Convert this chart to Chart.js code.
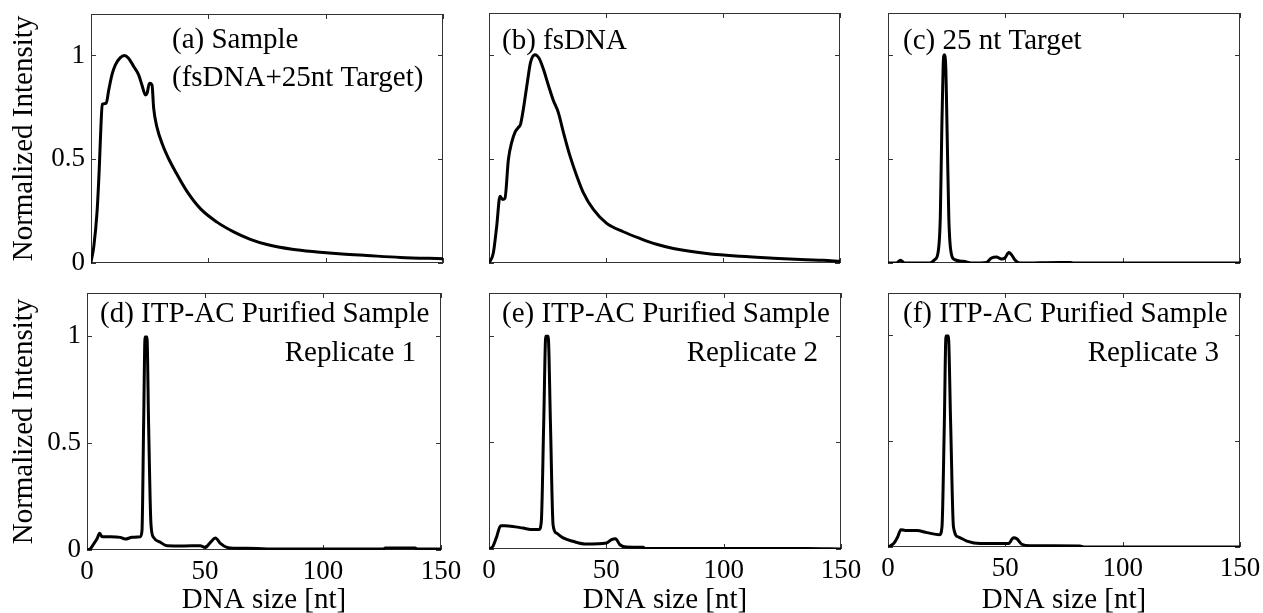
<!DOCTYPE html>
<html>
<head>
<meta charset="utf-8">
<script src="https://cdn.jsdelivr.net/npm/chart.js@4.4.1/dist/chart.umd.min.js"></script>
<style>
  body { margin: 0; background: #fff; }
  #wrap { position: relative; width: 1263px; height: 613px; overflow: hidden; }
  #wrap canvas { position: absolute; left: 0; top: 0; }
</style>
</head>
<body>
<div id="wrap">
  <canvas id="panelA" width="1263" height="613"></canvas>
  <canvas id="panelB" width="1263" height="613"></canvas>
  <canvas id="panelC" width="1263" height="613"></canvas>
  <canvas id="panelD" width="1263" height="613"></canvas>
  <canvas id="panelE" width="1263" height="613"></canvas>
  <canvas id="panelF" width="1263" height="613"></canvas>
</div>
<script>
// ---- data ----
const xTicks = [0, 50, 100, 150];
const yTicks = [0, 0.5, 1];

// (a) sample: fsDNA + 25 nt target
const sizeA = [0, 1.2, 2.6, 3.5, 4.2, 4.8, 6.5, 7.5, 9, 10.4, 12.5, 14.2, 16, 18.2, 20.3, 21.7, 23.2, 23.9, 24.9, 26, 26.7, 28.1, 30.5, 33.2, 36, 40.9, 46.6, 53.7, 60.8, 67.9, 75, 85.7, 96.3, 107, 117.6, 131.8, 150];
const intensityA = [0.005, 0.08, 0.25, 0.45, 0.65, 0.765, 0.77, 0.83, 0.91, 0.955, 0.99, 1.0, 0.987, 0.947, 0.907, 0.858, 0.81, 0.818, 0.866, 0.858, 0.746, 0.655, 0.57, 0.5, 0.44, 0.345, 0.262, 0.197, 0.15, 0.114, 0.089, 0.066, 0.053, 0.043, 0.036, 0.027, 0.021];

// (b) fsDNA only
const sizeB = [0, 1.85, 3.3, 4.7, 5.8, 6.8, 8.3, 9.7, 11.1, 12.5, 13.5, 14.7, 16.4, 17.8, 19.7, 21.5, 23.2, 25.4, 27.5, 29.6, 31.8, 34.6, 37.5, 40.3, 44.6, 50.3, 57.4, 64.5, 71.6, 78.8, 93, 107.3, 121.5, 135.7, 142.8, 150];
const intensityB = [0, 0.048, 0.177, 0.32, 0.305, 0.31, 0.498, 0.579, 0.627, 0.65, 0.667, 0.74, 0.868, 0.965, 1.0, 0.981, 0.932, 0.852, 0.78, 0.723, 0.627, 0.514, 0.418, 0.338, 0.257, 0.19, 0.15, 0.118, 0.09, 0.07, 0.046, 0.032, 0.023, 0.016, 0.013, 0.008];

// (c) 25 nt target
const sizeC = [0, 3.6, 5.3, 7.1, 17.8, 19.9, 21.3, 22.3, 22.9, 23.5, 24, 24.6, 25.2, 25.9, 26.7, 28.4, 32, 36.3, 42, 44.1, 46.2, 48.4, 49.8, 51.5, 52.6, 54, 56.2, 73.3, 77.5, 79, 150];
const intensityC = [0, 0, 0.013, 0, 0, 0.016, 0.048, 0.224, 0.624, 0.944, 1.0, 0.944, 0.624, 0.224, 0.064, 0.016, 0.008, 0, 0.003, 0.024, 0.029, 0.019, 0.024, 0.051, 0.04, 0.016, 0, 0.003, 0.003, 0, 0];

// (d) ITP-AC purified, replicate 1
const sizeD = [0, 1.4, 2.8, 4.2, 5.4, 6.4, 9.9, 14.1, 16.2, 19.1, 22.6, 23.3, 24, 24.6, 25.4, 26.1, 27.1, 28.2, 31.1, 33.9, 41, 48, 50.1, 52.3, 54.4, 56.5, 59.3, 62.1, 67.8, 76.3, 125.7, 126.4, 139.1, 139.8, 150];
const intensityD = [0, 0.005, 0.028, 0.051, 0.078, 0.062, 0.062, 0.059, 0.051, 0.059, 0.062, 0.09, 0.588, 0.995, 0.995, 0.588, 0.121, 0.059, 0.036, 0.02, 0.019, 0.02, 0.012, 0.036, 0.056, 0.031, 0.012, 0.008, 0.008, 0.005, 0.005, 0.009, 0.009, 0.005, 0.005];

// (e) ITP-AC purified, replicate 2
const sizeE = [0, 1.7, 3.1, 5, 6.7, 10.2, 14.5, 18.8, 21.3, 22.3, 23.3, 24.2, 25.2, 26.2, 27.3, 28.7, 31.6, 35.8, 41.5, 50.1, 52.2, 53.9, 55.8, 58.6, 65.7, 66.4, 135.4, 150];
const intensityE = [0, 0.013, 0.052, 0.109, 0.109, 0.106, 0.098, 0.091, 0.091, 0.13, 0.583, 0.997, 0.997, 0.583, 0.114, 0.075, 0.052, 0.036, 0.023, 0.028, 0.044, 0.048, 0.02, 0.009, 0.008, 0.002, 0.002, 0];

// (f) ITP-AC purified, replicate 3
const sizeF = [0, 2.4, 4.1, 5.5, 7.4, 12.3, 16.6, 22, 23, 24, 24.7, 25.7, 26.7, 27.9, 30.1, 33.6, 39.3, 51.3, 53.5, 54.9, 57, 60.6, 81.8, 83.3, 150];
const intensityF = [0, 0.016, 0.047, 0.082, 0.078, 0.078, 0.068, 0.058, 0.094, 0.581, 0.997, 0.997, 0.581, 0.094, 0.047, 0.028, 0.016, 0.016, 0.044, 0.039, 0.013, 0.006, 0.005, 0, 0];

const notesA = ["(a) Sample", "(fsDNA+25nt Target)"];
const notesB = ["(b) fsDNA"];
const notesC = ["(c) 25 nt Target"];
const notesD = ["(d) ITP-AC Purified Sample", "Replicate 1"];
const notesE = ["(e) ITP-AC Purified Sample", "Replicate 2"];
const notesF = ["(f) ITP-AC Purified Sample", "Replicate 3"];

const yTitle = "Normalized Intensity";
const xTitle = "DNA size [nt]";

// ---- styling / layout ----
const W = 1263, H = 613;
const SERIF = '"Liberation Serif", "Times New Roman", serif';
Chart.defaults.font.family = SERIF;
Chart.defaults.color = "#000";

// MATLAB-style box with inward ticks
const boxPlugin = {
  id: "matlabBox",
  beforeDatasetsDraw(chart) {
    const { ctx, chartArea: a, scales: { x, y } } = chart;
    ctx.save();
    ctx.strokeStyle = "#333";
    ctx.lineWidth = 1;
    ctx.strokeRect(a.left + 0.5, a.top + 0.5, a.right - a.left - 1, a.bottom - a.top - 1);
    ctx.beginPath();
    xTicks.forEach(v => {
      const px = Math.round(x.getPixelForValue(v)) + 0.5;
      ctx.moveTo(px, a.bottom); ctx.lineTo(px, a.bottom - 5);
      ctx.moveTo(px, a.top); ctx.lineTo(px, a.top + 5);
    });
    yTicks.forEach(v => {
      const py = Math.round(y.getPixelForValue(v)) + 0.5;
      ctx.moveTo(a.left, py); ctx.lineTo(a.left + 5, py);
      ctx.moveTo(a.right, py); ctx.lineTo(a.right - 5, py);
    });
    ctx.stroke();
    ctx.restore();
  }
};

// panel annotations written inside the plot box
const notesPlugin = {
  id: "panelNotes",
  afterDraw(chart, args, opts) {
    const { ctx, chartArea: a } = chart;
    ctx.save();
    ctx.font = "29px " + SERIF;
    ctx.fillStyle = "#000";
    ctx.textBaseline = "alphabetic";
    (opts.items || []).forEach(it => {
      ctx.textAlign = it.align;
      const px = it.align === "right" ? a.right - it.dx : a.left + it.dx;
      ctx.fillText(it.text, px, a.top + it.dy);
    });
    ctx.restore();
  }
};

function makePanel(id, sizes, values, box, showY, showX, items) {
  const points = sizes.map((s, i) => ({ x: s, y: values[i] }));
  const yW = showY ? box.left : 0;
  const xH = showX ? H - box.bottom : 0;
  new Chart(document.getElementById(id), {
    type: "line",
    data: {
      datasets: [{
        data: points,
        borderColor: "#000",
        borderWidth: 3,
        borderJoinStyle: "round",
        borderCapStyle: "round",
        pointRadius: 0,
        cubicInterpolationMode: "monotone",
        fill: false
      }]
    },
    options: {
      responsive: false,
      animation: false,
      events: [],
      layout: {
        padding: {
          left: showY ? 0 : box.left,
          top: box.top,
          right: W - box.right,
          bottom: showX ? 0 : H - box.bottom
        }
      },
      plugins: {
        legend: { display: false },
        tooltip: { enabled: false },
        panelNotes: { items }
      },
      scales: {
        x: {
          type: "linear",
          min: 0, max: 150,
          grid: { display: false, drawTicks: false },
          border: { display: false },
          afterBuildTicks: s => { s.ticks = xTicks.map(v => ({ value: v })); },
          afterFit: s => { s.height = xH; s.paddingLeft = 0; s.paddingRight = 0; },
          ticks: {
            display: showX,
            padding: 6,
            maxRotation: 0,
            autoSkip: false,
            font: { size: 27 },
            callback: v => String(v)
          },
          title: {
            display: showX,
            text: xTitle,
            font: { size: 29, lineHeight: 0.9 },
            padding: { top: 0, bottom: 0 }
          }
        },
        y: {
          type: "linear",
          min: 0, max: 1.2,
          grid: { display: false, drawTicks: false },
          border: { display: false },
          afterBuildTicks: s => { s.ticks = yTicks.map(v => ({ value: v })); },
          afterFit: s => { s.width = yW; s.paddingTop = 0; s.paddingBottom = 0; },
          ticks: {
            display: showY,
            padding: 6,
            font: { size: 27 },
            callback: v => String(v)
          },
          title: {
            display: showY,
            text: yTitle,
            font: { size: 29 },
            padding: { top: 7, bottom: 0 }
          }
        }
      }
    },
    plugins: [boxPlugin, notesPlugin]
  });
}

makePanel("panelA", sizeA, intensityA, { left: 91, top: 14, right: 443, bottom: 263 }, true, false, [
  { text: notesA[0], align: "left", dx: 81, dy: 34 },
  { text: notesA[1], align: "left", dx: 81, dy: 72 }
]);
makePanel("panelB", sizeB, intensityB, { left: 489, top: 13, right: 840, bottom: 263 }, false, false, [
  { text: notesB[0], align: "left", dx: 13, dy: 36 }
]);
makePanel("panelC", sizeC, intensityC, { left: 888, top: 13, right: 1240, bottom: 263 }, false, false, [
  { text: notesC[0], align: "left", dx: 15, dy: 36 }
]);
makePanel("panelD", sizeD, intensityD, { left: 87, top: 293, right: 441, bottom: 550 }, true, true, [
  { text: notesD[0], align: "left", dx: 13, dy: 29 },
  { text: notesD[1], align: "right", dx: 25, dy: 68 }
]);
makePanel("panelE", sizeE, intensityE, { left: 489, top: 293, right: 841, bottom: 549 }, false, true, [
  { text: notesE[0], align: "left", dx: 13, dy: 29 },
  { text: notesE[1], align: "right", dx: 23, dy: 68 }
]);
makePanel("panelF", sizeF, intensityF, { left: 888, top: 293, right: 1240, bottom: 547 }, false, true, [
  { text: notesF[0], align: "left", dx: 15, dy: 29 },
  { text: notesF[1], align: "right", dx: 21, dy: 68 }
]);
</script>
</body>
</html>
